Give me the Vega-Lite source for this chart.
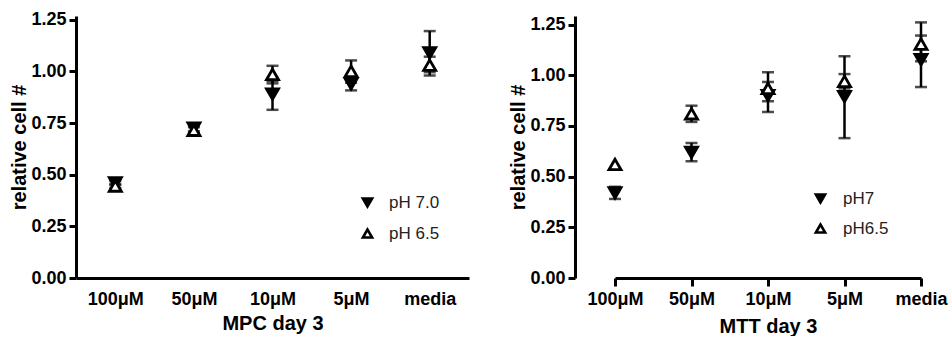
{
  "$schema": "https://vega.github.io/schema/vega-lite/v6.json",
  "background": "white",
  "padding": {"left": 9, "top": 10, "right": 0, "bottom": 0},
  "bounds": "flush",
  "spacing": 106,
  "config": {
    "view": {"stroke": null},
    "font": "Liberation Sans",
    "axis": {
      "domainColor": "black", "domainWidth": 3, "tickColor": "black", "tickWidth": 3,
      "labelFont": "Liberation Sans", "labelFontWeight": "bold", "labelFontSize": 18, "labelColor": "black",
      "titleFont": "Liberation Sans", "titleFontWeight": "bold", "titleFontSize": 20, "titleColor": "black",
      "grid": false
    }
  },
  "resolve": {
    "scale": {"x": "independent", "y": "independent", "shape": "independent", "fill": "independent"},
    "legend": {"shape": "independent", "fill": "independent"}
  },
  "hconcat": [
    {
      "width": 393,
      "height": 262,
      "data": {"values": [
        {"conc": "100μM", "series": "pH 7.0", "mean": 0.46, "lo": 0.45, "hi": 0.47},
        {"conc": "100μM", "series": "pH 6.5", "mean": 0.445, "lo": 0.435, "hi": 0.455},
        {"conc": "50μM", "series": "pH 7.0", "mean": 0.725, "lo": 0.71, "hi": 0.745},
        {"conc": "50μM", "series": "pH 6.5", "mean": 0.715, "lo": 0.70, "hi": 0.73},
        {"conc": "10μM", "series": "pH 7.0", "mean": 0.89, "lo": 0.814, "hi": 0.954},
        {"conc": "10μM", "series": "pH 6.5", "mean": 0.985, "lo": 0.942, "hi": 1.027},
        {"conc": "5μM", "series": "pH 7.0", "mean": 0.94, "lo": 0.908, "hi": 0.97},
        {"conc": "5μM", "series": "pH 6.5", "mean": 1.0, "lo": 0.945, "hi": 1.053},
        {"conc": "media", "series": "pH 7.0", "mean": 1.09, "lo": 0.98, "hi": 1.195},
        {"conc": "media", "series": "pH 6.5", "mean": 1.03, "lo": 0.996, "hi": 1.071}
      ]},
      "encoding": {
        "x": {
          "field": "conc", "type": "nominal",
          "sort": ["100μM", "50μM", "10μM", "5μM", "media"],
          "scale": {"type": "point", "padding": 0.5},
          "axis": {"title": "MPC day 3", "labelAngle": 0, "ticks": false, "labelPadding": 12, "titlePadding": 5}
        },
        "y": {
          "field": "mean", "type": "quantitative", "title": "relative cell #",
          "scale": {"domain": [0, 1.268], "nice": false, "zero": true},
          "axis": {"values": [0, 0.25, 0.5, 0.75, 1, 1.25], "format": ".2f", "tickSize": 7, "labelPadding": 3, "titlePadding": 1}
        }
      },
      "layer": [
        {
          "mark": {"type": "rule", "color": "black", "strokeWidth": 2.5},
          "encoding": {"y": {"field": "lo", "type": "quantitative", "title": "relative cell #"}, "y2": {"field": "hi"}}
        },
        {
          "mark": {"type": "tick", "color": "black", "thickness": 2.5, "size": 12, "orient": "horizontal"},
          "encoding": {"y": {"field": "lo", "type": "quantitative", "title": "relative cell #"}}
        },
        {
          "mark": {"type": "tick", "color": "black", "thickness": 2.5, "size": 12, "orient": "horizontal"},
          "encoding": {"y": {"field": "hi", "type": "quantitative", "title": "relative cell #"}}
        },
        {
          "mark": {"type": "point", "filled": true, "stroke": "black", "strokeWidth": 2.8, "opacity": 1, "size": 145},
          "encoding": {
            "shape": {
              "field": "series", "type": "nominal",
              "scale": {"domain": ["pH 7.0", "pH 6.5"], "range": ["triangle-down", "triangle-up"]},
              "legend": {"title": null, "orient": "none", "legendX": 283, "legendY": 178, "symbolSize": 85, "symbolStrokeWidth": 2.6, "labelFont": "Liberation Sans", "labelFontSize": 17, "labelColor": "#222", "labelOffset": 13, "rowPadding": 12, "padding": 0,
                "encode": {"symbols": {"update": {"stroke": {"value": "black"}, "strokeWidth": {"value": 2.6}, "opacity": {"value": 1}}}}}
            },
            "fill": {
              "field": "series", "type": "nominal",
              "scale": {"domain": ["pH 7.0", "pH 6.5"], "range": ["black", "white"]},
              "legend": {"title": null, "orient": "none", "legendX": 283, "legendY": 178, "symbolSize": 85, "symbolStrokeWidth": 2.6, "labelFont": "Liberation Sans", "labelFontSize": 17, "labelColor": "#222", "labelOffset": 13, "rowPadding": 12, "padding": 0,
                "encode": {"symbols": {"update": {"stroke": {"value": "black"}, "strokeWidth": {"value": 2.6}, "opacity": {"value": 1}}}}}
            }
          }
        }
      ]
    },
    {
      "width": 378,
      "height": 262,
      "data": {"values": [
        {"conc": "100μM", "series": "pH7", "mean": 0.42, "lo": 0.39, "hi": 0.45},
        {"conc": "100μM", "series": "pH6.5", "mean": 0.56, "lo": null, "hi": null},
        {"conc": "50μM", "series": "pH7", "mean": 0.62, "lo": 0.576, "hi": 0.666},
        {"conc": "50μM", "series": "pH6.5", "mean": 0.81, "lo": 0.77, "hi": 0.85},
        {"conc": "10μM", "series": "pH7", "mean": 0.9, "lo": 0.819, "hi": 0.967},
        {"conc": "10μM", "series": "pH6.5", "mean": 0.935, "lo": 0.872, "hi": 1.015},
        {"conc": "5μM", "series": "pH7", "mean": 0.895, "lo": 0.69, "hi": 1.094},
        {"conc": "5μM", "series": "pH6.5", "mean": 0.97, "lo": 0.935, "hi": 1.006},
        {"conc": "media", "series": "pH7", "mean": 1.077, "lo": 0.942, "hi": 1.196},
        {"conc": "media", "series": "pH6.5", "mean": 1.154, "lo": 1.069, "hi": 1.261}
      ]},
      "encoding": {
        "x": {
          "field": "conc", "type": "nominal",
          "sort": ["100μM", "50μM", "10μM", "5μM", "media"],
          "scale": {"type": "point", "padding": 0, "range": [40, 346]},
          "axis": {"title": "MTT day 3", "labelAngle": 0, "ticks": true, "tickSize": 8, "labelPadding": 4, "titlePadding": 8}
        },
        "y": {
          "field": "mean", "type": "quantitative", "title": "relative cell #",
          "scale": {"domain": [0, 1.2925], "nice": false, "zero": true},
          "axis": {"values": [0, 0.25, 0.5, 0.75, 1, 1.25], "format": ".2f", "tickSize": 7, "labelPadding": 3, "titlePadding": 1}
        }
      },
      "layer": [
        {
          "mark": {"type": "rule", "color": "black", "strokeWidth": 2.5},
          "encoding": {"y": {"field": "lo", "type": "quantitative", "title": "relative cell #"}, "y2": {"field": "hi"}}
        },
        {
          "mark": {"type": "tick", "color": "black", "thickness": 2.5, "size": 12, "orient": "horizontal"},
          "encoding": {"y": {"field": "lo", "type": "quantitative", "title": "relative cell #"}}
        },
        {
          "mark": {"type": "tick", "color": "black", "thickness": 2.5, "size": 12, "orient": "horizontal"},
          "encoding": {"y": {"field": "hi", "type": "quantitative", "title": "relative cell #"}}
        },
        {
          "mark": {"type": "point", "filled": true, "stroke": "black", "strokeWidth": 2.8, "opacity": 1, "size": 145},
          "encoding": {
            "shape": {
              "field": "series", "type": "nominal",
              "scale": {"domain": ["pH7", "pH6.5"], "range": ["triangle-down", "triangle-up"]},
              "legend": {"title": null, "orient": "none", "legendX": 237, "legendY": 174, "symbolSize": 85, "symbolStrokeWidth": 2.6, "labelFont": "Liberation Sans", "labelFontSize": 17, "labelColor": "#222", "labelOffset": 14, "rowPadding": 11, "padding": 0,
                "encode": {"symbols": {"update": {"stroke": {"value": "black"}, "strokeWidth": {"value": 2.6}, "opacity": {"value": 1}}}}}
            },
            "fill": {
              "field": "series", "type": "nominal",
              "scale": {"domain": ["pH7", "pH6.5"], "range": ["black", "white"]},
              "legend": {"title": null, "orient": "none", "legendX": 237, "legendY": 174, "symbolSize": 85, "symbolStrokeWidth": 2.6, "labelFont": "Liberation Sans", "labelFontSize": 17, "labelColor": "#222", "labelOffset": 14, "rowPadding": 11, "padding": 0,
                "encode": {"symbols": {"update": {"stroke": {"value": "black"}, "strokeWidth": {"value": 2.6}, "opacity": {"value": 1}}}}}
            }
          }
        }
      ]
    }
  ]
}
